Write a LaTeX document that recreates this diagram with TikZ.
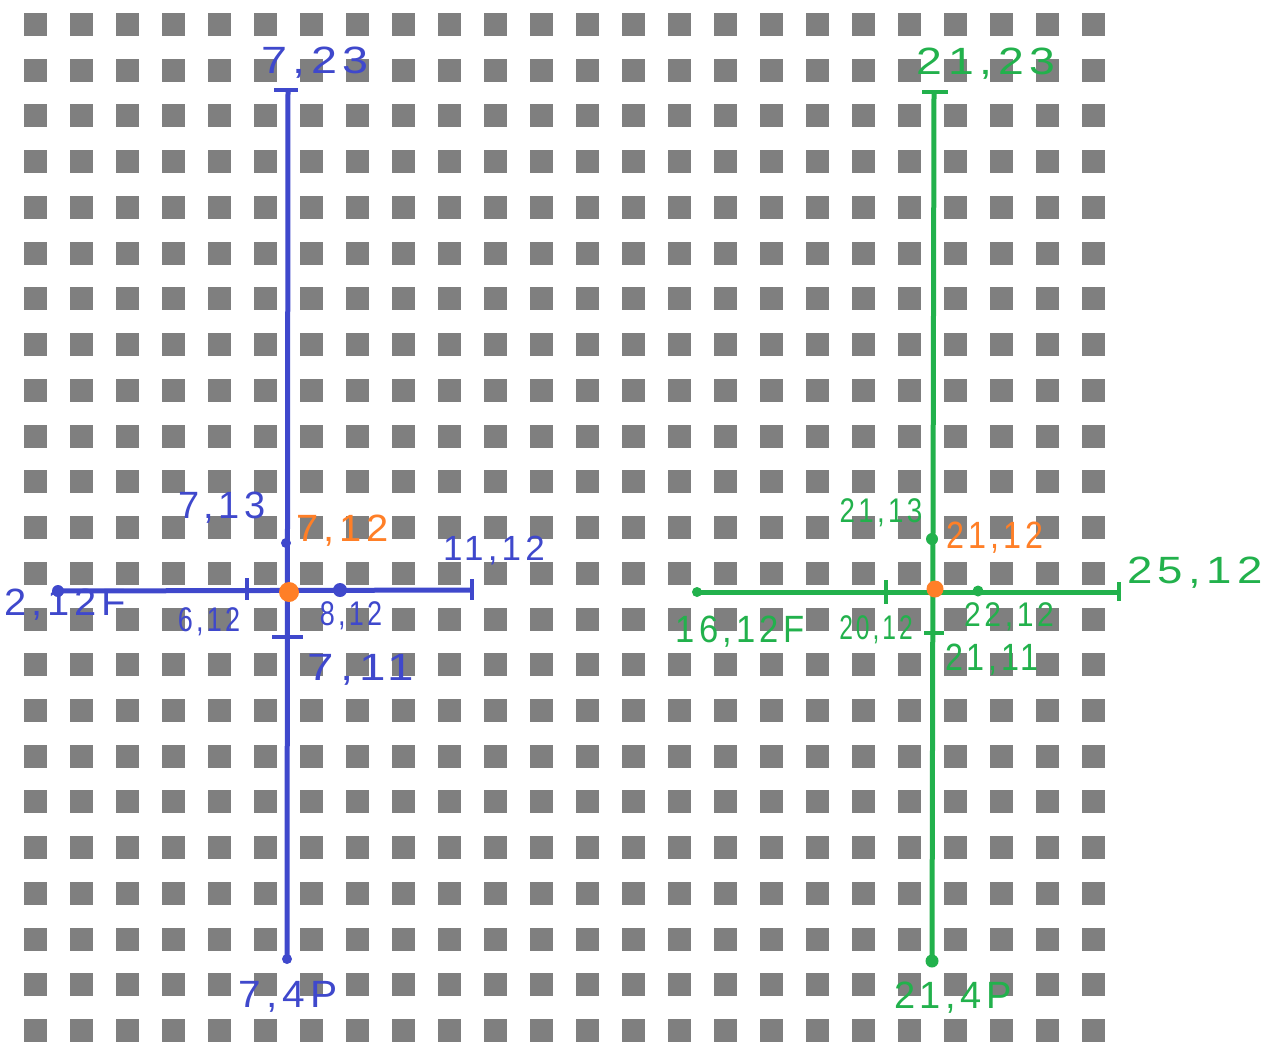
\documentclass[tikz,border=0pt]{standalone}
\usepackage{fontspec}
\setmainfont{Liberation Sans}
\newfontfamily\handfont{Liberation Sans}[LetterSpace=12]
\usetikzlibrary{calc}
\definecolor{paintblue}{RGB}{63,72,204}
\definecolor{paintgreen}{RGB}{34,177,76}
\definecolor{paintorange}{RGB}{255,127,39}
\definecolor{cellgray}{RGB}{127,127,127}
\tikzset{
  axis/.style={line width=2.5pt},
  tick/.style={line width=2pt},
  lbl/.style={font=\handfont\fontsize{19}{19}\selectfont, inner sep=0pt},
}
\begin{document}
\begin{tikzpicture}[x=0.5pt,y=-0.5pt]
	\useasboundingbox (0,0) rectangle (1278,1051);
	\fill[white] (0,0) rectangle (1278,1051);
	\foreach \i in {0,...,23}
		\foreach \j in {0,...,22}
			\fill[cellgray] ({24+46*\i},{13+45.73*\j}) rectangle ++(23,23);

	% blue cross
	\coordinate (Btop) at (288,90);
	\coordinate (Bbot) at (287,959);
	\coordinate (Bleft) at (55,591);
	\coordinate (Bright) at (472,590);
	\coordinate (Bup) at (286,543);
	\coordinate (Bdown) at (288,637);
	\coordinate (Bwest) at (247,590);
	\coordinate (Beast) at (340,590);
	\coordinate (Bmid) at (289,592);
	\begin{scope}[paintblue]
		\draw[axis] (Btop) -- (Bbot);
		\draw[axis] (Bleft) -- (Bright);
		\draw[tick] ($(Btop)+(-14,0)$) -- ($(Btop)+(10,0)$);
		\draw[tick] ($(Bright)+(0,-11)$) -- ($(Bright)+(0,10)$);
		\draw[tick] ($(Bwest)+(0,-12)$) -- ($(Bwest)+(0,10)$);
		\draw[tick] ($(Bdown)+(-16,0)$) -- ($(Bdown)+(15,0)$);
		\fill (Bleft) ++(3,0) circle (6);
		\fill (Bbot) circle (5);
		\fill (Bup) circle (5);
		\fill (Beast) circle (7);
		\node[lbl, xscale=1.23] (b723) at (315,63) {7,23};
		\node[lbl] (b713) at (222,508) {7,13};
		\node[lbl, scale=0.92] (b1112) at (494,551) {11,12};
		\node[lbl, xscale=1.05] (b212) at (65,605) {2,12F};
		\node[lbl, scale=0.9, xscale=0.79] (b612) at (209,622) {6,12};
		\node[lbl, scale=0.9, xscale=0.79] (b812) at (351,616) {8,12};
		\node[lbl, xscale=1.25] (b711) at (361,670) {7,11};
		\node[lbl, xscale=1.07] (b74) at (288,997) {7,4P};
	\end{scope}
	\fill[paintorange] (Bmid) circle (10);
	\node[lbl, paintorange, xscale=1.05] (b712) at (343,531) {7,12};

	% green cross
	\coordinate (Gtop) at (934,92);
	\coordinate (Gbot) at (932,961);
	\coordinate (Gleft) at (697,592);
	\coordinate (Gright) at (1119,592);
	\coordinate (Gup) at (932,539);
	\coordinate (Gdown) at (934,633);
	\coordinate (Gwest) at (886,592);
	\coordinate (Geast) at (978,591);
	\coordinate (Gmid) at (935,589);
	\begin{scope}[paintgreen]
		\draw[axis] (Gtop) -- (Gbot);
		\draw[axis] (Gleft) -- (Gright);
		\draw[tick] ($(Gtop)+(-12,0)$) -- ($(Gtop)+(14,0)$);
		\draw[tick] ($(Gright)+(0,-10)$) -- ($(Gright)+(0,9)$);
		\draw[tick] ($(Gwest)+(0,-12)$) -- ($(Gwest)+(0,12)$);
		\draw[tick] ($(Gdown)+(-10,0)$) -- ($(Gdown)+(10,0)$);
		\fill (Gleft) circle (5);
		\fill (Gbot) circle (6.5);
		\fill (Gup) circle (6);
		\fill (Geast) circle (5.5);
		\node[lbl, xscale=1.22] (g2123) at (986,64) {21,23};
		\node[lbl, scale=0.9, xscale=0.81] (g2113) at (881,513) {21,13};
		\node[lbl, xscale=1.2] (g2512) at (1195,573) {25,12};
		\node[lbl, xscale=0.91] (g1612) at (740,632) {16,12F};
		\node[lbl, scale=0.9, xscale=0.72] (g2012) at (876,630) {20,12};
		\node[lbl, scale=0.9, xscale=0.88] (g2212) at (1009,617) {22,12};
		\node[lbl, xscale=0.85] (g2111) at (992,660) {21,11};
		\node[lbl] (g214) at (953,998) {21,4P};
	\end{scope}
	\fill[paintorange] (Gmid) circle (8.5);
	\node[lbl, paintorange, xscale=0.85] (g2112) at (995,538) {21,12};
\end{tikzpicture}
\end{document}
